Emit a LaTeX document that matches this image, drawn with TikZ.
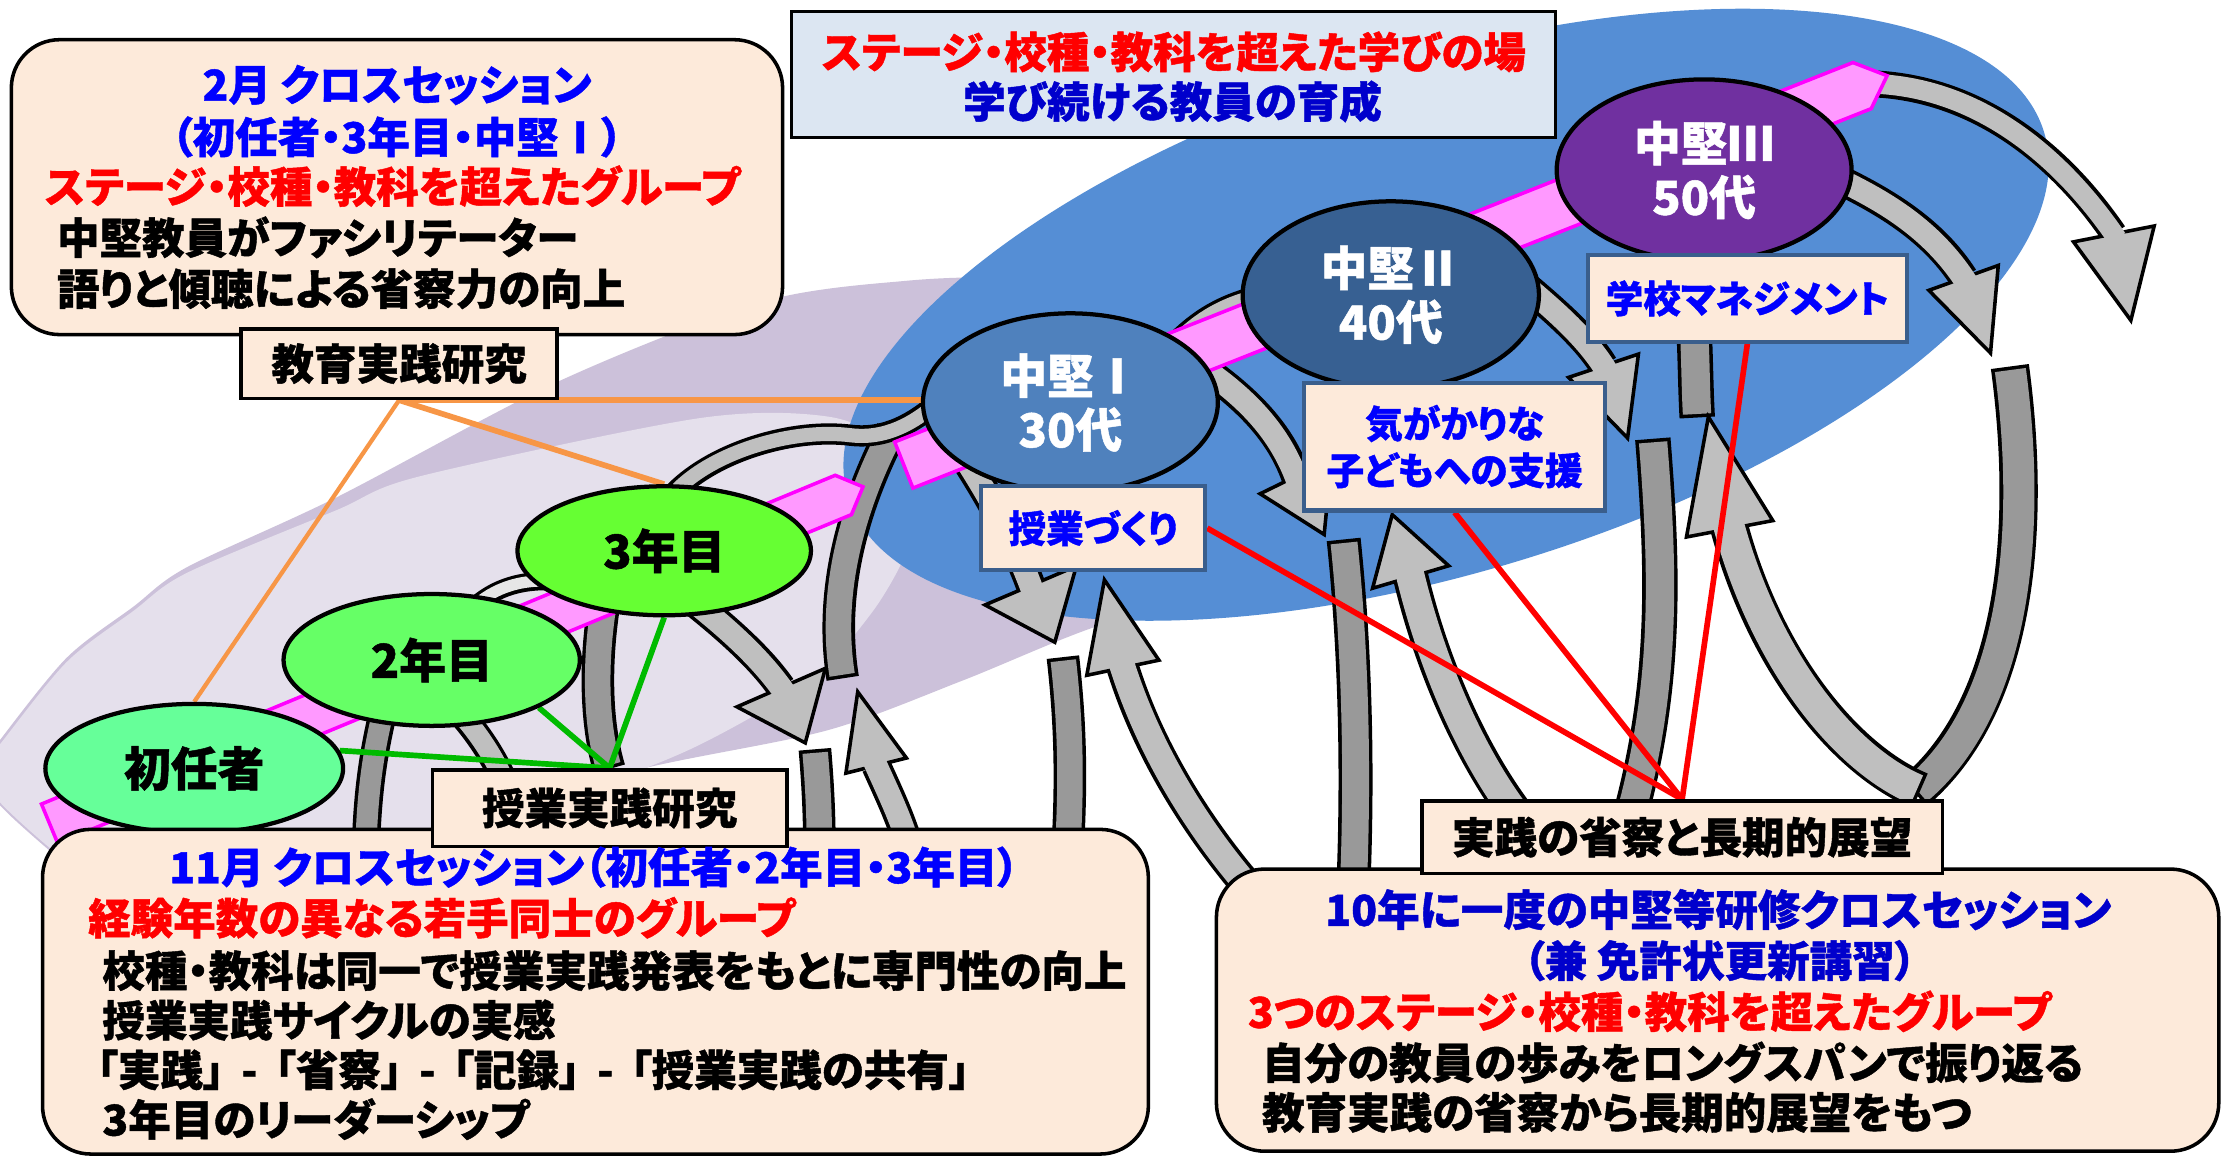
\documentclass[tikz,border=0pt]{standalone}
\usepackage{fontspec}
\setmainfont{Noto Sans CJK JP}[CharacterWidth=AlternateProportional, BoldFeatures={FakeBold=1}]
\usetikzlibrary{shapes.geometric,calc}
\definecolor{peach}{HTML}{FDEADA}
\definecolor{titlebg}{HTML}{DCE6F2}
\definecolor{purpout}{HTML}{CCC1DA}
\definecolor{purpin}{HTML}{E5E0EC}
\definecolor{bigblue}{HTML}{558ED5}
\definecolor{bandfill}{HTML}{FF99FF}
\definecolor{bandedge}{HTML}{FF00FF}
\definecolor{lgray}{HTML}{BFBFBF}
\definecolor{dgray}{HTML}{999999}
\definecolor{vlgray}{HTML}{E6E6E6}
\definecolor{gA}{HTML}{66FF99}
\definecolor{gB}{HTML}{66FF66}
\definecolor{gC}{HTML}{66FF33}
\definecolor{kA}{HTML}{4F81BD}
\definecolor{kB}{HTML}{376092}
\definecolor{kC}{HTML}{7030A0}
\definecolor{boxedge}{HTML}{3A5E8C}
\definecolor{orln}{HTML}{F79646}
\definecolor{grln}{HTML}{00BB00}
\definecolor{bluetx}{HTML}{0000FF}
\definecolor{dbluetx}{HTML}{0000CC}
\definecolor{redtx}{HTML}{FF0000}
\pgfdeclarelayer{lyA}\pgfdeclarelayer{lyB}\pgfdeclarelayer{lyC}
\pgfsetlayers{lyA,lyB,lyC,main}
\newcommand\gshaft[3]{%
  \draw[line width=#2pt+5pt, shorten <=-2.5pt, shorten >=-2.5pt] #3;
  \draw[line width=#2pt, #1] #3;}
\newcommand\garrow[5]{%
  \draw[line width=#1pt+5pt, shorten <=-2.5pt] #2;
  \filldraw[fill=lgray, line width=2.5pt, line join=miter] ($#3!#5pt!90:#4$) -- #4 -- ($#3!#5pt!-90:#4$) -- cycle;
  \draw[line width=#1pt, lgray, shorten >=-4pt] #2;}
\newcommand\dsep{\hspace{12pt}-\hspace{12pt}}
\tikzset{
  jp/.style={font=\bfseries\fontsize{30}{35}\selectfont},
  tl/.style={inner sep=0pt, jp},
  pbox/.style={rectangle, draw=black, line width=2.5pt, fill=peach, inner sep=0pt, jp},
  rbox/.style={pbox, rounded corners=34pt},
  bbox/.style={rectangle, draw=boxedge, line width=3pt, fill=peach, inner sep=0pt, font=\bfseries\fontsize{26.5}{33}\selectfont, text=bluetx, align=center},
  tbox/.style={rectangle, draw=black, line width=2pt, fill=titlebg, inner sep=0pt},
  gel/.style={ellipse, draw=black, line width=3pt, inner sep=0pt, font=\bfseries\fontsize{33}{38}\selectfont, align=center},
  kel/.style={gel, text=white},
  band/.style={fill=bandfill, draw=bandedge, line width=2.5pt, line join=miter},
  orl/.style={draw=orln, line width=4pt},
  grl/.style={draw=grln, line width=4pt},
  rdl/.style={draw=redtx, line width=4pt}
}
\begin{document}
\begin{tikzpicture}[x=1pt, y=-1pt]
\useasboundingbox (0,0) rectangle (1568,816);
\begin{pgfonlayer}{lyA}
\fill[white] (0,0) rectangle (1568,816);
\fill[purpout] plot[smooth cycle] coordinates {(-15,545) (0,522) (47,464) (94,428) (132,400) (237,351) (394,269) (537,213) (640,198) (720,196) (820,205) (900,260) (905,370) (860,420) (773,442) (679,480) (584,515) (458,541) (300,580) (150,632) (100,654) (35,600) (0,568)};
\fill[purpin] plot[smooth cycle] coordinates {(-15,545) (0,525) (47,467) (94,431) (132,404) (237,360) (296,336) (493,295) (585,294) (632,316) (647,350) (640,388) (615,432) (571,480) (490,527) (400,562) (250,612) (100,650) (35,598) (0,566)};
\fill[bigblue, rotate around={17:(1020,222)}] (1020,222) ellipse [x radius=441pt, y radius=181pt];
\end{pgfonlayer}

\begin{pgfonlayer}{lyB}
% back strips
\gshaft{dgray}{10}{(178,560) .. controls (179,575) and (179,590) .. (179,600)}
\gshaft{dgray}{15}{(272,495) .. controls (263,530) and (259,560) .. (258,600)}
\gshaft{lgray}{14}{(322,500) .. controls (345,525) and (362,555) .. (372,600)}
\gshaft{dgray}{18}{(427,420) .. controls (419,465) and (420,510) .. (429,540)}
\gshaft{dgray}{18}{(628,306) .. controls (600,360) and (585,420) .. (594,476)}
\gshaft{dgray}{18}{(575,531) .. controls (577,555) and (578,575) .. (578,600)}
\gshaft{dgray}{18}{(750,466) .. controls (755,510) and (756,550) .. (753,600)}
\gshaft{dgray}{19}{(948,383) .. controls (955,450) and (958,530) .. (955,615)}
\gshaft{dgray}{20}{(1166,312) .. controls (1173,400) and (1176,480) .. (1150,575)}
\gshaft{dgray}{20}{(1195,235) .. controls (1196,255) and (1196,275) .. (1197,292)}
\gshaft{dgray}{22}{(1418,261) .. controls (1434,380) and (1420,500) .. (1352,557)}
% top arcs
\gshaft{vlgray}{8}{(330,432) .. controls (345,416) and (365,408) .. (392,410)}
\gshaft{lgray}{10}{(478,345) .. controls (505,318) and (560,302) .. (600,307) .. controls (625,310) and (645,298) .. (660,285)}
\gshaft{lgray}{9}{(830,240) .. controls (845,225) and (862,214) .. (888,208)}
% arrows
\garrow{16}{(490,425) .. controls (515,445) and (537,465) .. (551,485)}{(551,485)}{(568,524)}{34}
\garrow{16}{(642,600) .. controls (636,578) and (626,558) .. (618,540)}{(618,540)}{(605,488)}{22}
\garrow{16}{(675,315) .. controls (695,345) and (715,380) .. (727,413)}{(727,413)}{(744,453)}{35}
\garrow{18}{(880,625) .. controls (850,590) and (812,535) .. (792,471)}{(792,471)}{(779,409)}{26}
\garrow{16}{(852,262) .. controls (880,282) and (903,305) .. (914,336)}{(914,336)}{(934,377)}{28}
\garrow{20}{(1078,585) .. controls (1040,540) and (1010,470) .. (995,407)}{(995,407)}{(982,363)}{28}
\garrow{16}{(1080,205) .. controls (1100,222) and (1120,240) .. (1131,258)}{(1131,258)}{(1148,309)}{26}
\garrow{22}{(1352,557) .. controls (1300,535) and (1245,465) .. (1220,373)}{(1220,373)}{(1205,294)}{31}
\garrow{16}{(1300,128) .. controls (1335,145) and (1365,165) .. (1385,196)}{(1385,196)}{(1404,249)}{26}
\garrow{14}{(1318,59) .. controls (1390,60) and (1450,105) .. (1491,165)}{(1491,165)}{(1503,226)}{29}
\end{pgfonlayer}

\begin{pgfonlayer}{lyC}
\begin{scope}[shift={(35,581)}, rotate=22.5]
  \filldraw[band] (0,-15) -- (606,-15) -- (621,0) -- (606,15) -- (0,15) -- cycle;
\end{scope}
\begin{scope}[shift={(637.5,328)}, rotate=21.6]
  \filldraw[band] (0,-17.5) -- (727,-17.5) -- (746,0) -- (727,17.5) -- (0,17.5) -- cycle;
\end{scope}
\end{pgfonlayer}

% ellipses
\node[gel, fill=gA, minimum width=210pt, minimum height=91pt] (sho) at (137,542) {初任者};
\node[gel, fill=gB, minimum width=209pt, minimum height=93pt] (s2) at (304.5,465.5) {2年目};
\node[gel, fill=gC, minimum width=207pt, minimum height=91pt] (s3) at (468.5,388.5) {3年目};
\node[kel, fill=kA, minimum width=208pt, minimum height=126pt] (k1) at (755,284) {中堅Ⅰ\\30代};
\node[kel, fill=kB, minimum width=209pt, minimum height=132pt] (k2) at (981,208) {中堅Ⅱ\\40代};
\node[kel, fill=kC, minimum width=208pt, minimum height=128pt] (k3) at (1202,120) {中堅Ⅲ\\50代};

% boxes
\node[rbox, minimum width=544pt, minimum height=208pt] (bx2) at (280,132) {};
\node[pbox, minimum width=223pt, minimum height=49pt] (kjk) at (281.5,256.5) {教育実践研究};
\node[tbox, minimum width=539pt, minimum height=89pt] (ttl) at (827.5,52.5) {};
\node[rbox, minimum width=780pt, minimum height=229pt] (bx11) at (420,699.5) {};
\node[pbox, minimum width=250pt, minimum height=54pt] (jgj) at (430,570) {授業実践研究};
\node[rbox, minimum width=707pt, minimum height=199pt] (bx10) at (1211.5,712.5) {};
\node[pbox, minimum width=367pt, minimum height=51pt] (jss) at (1186.5,590.5) {実践の省察と長期的展望};
\node[bbox, minimum width=158pt, minimum height=59pt] (jz) at (771,372.5) {授業づくり};
\node[bbox, minimum width=212pt, minimum height=90pt] (kg) at (1026,315) {気がかりな\\子どもへの支援};
\node[bbox, minimum width=225pt, minimum height=61pt] (gm) at (1232.5,210.5) {学校マネジメント};

% connectors
\begin{pgfonlayer}{lyC}
\draw[orl, line width=3pt] (kjk.south) -- (sho.north);
\draw[orl] (kjk.south) -- (s3.north);
\draw[orl] (kjk.south) -- (kjk.south -| k1.west);
\draw[grl] (jgj.north) -- (sho.7);
\draw[grl] (jgj.north) -- (s2.-24);
\draw[grl] (jgj.north) -- (s3.south);
\draw[rdl] (jss.north) -- (jz.east);
\draw[rdl] (jss.north) -- (kg.south);
\draw[rdl] (jss.north) -- (gm.south);
\end{pgfonlayer}

% texts
\node[tl, anchor=base, text=bluetx] (a1) at (280,71) {2月 クロスセッション};
\node[tl, anchor=base, text=bluetx] (a2) at (280,108) {（初任者・3年目・中堅Ⅰ）};
\node[tl, anchor=base, text=redtx] (a3) at (277,143) {ステージ・校種・教科を超えたグループ};
\node[tl, anchor=base west] (a4) at (40,179) {中堅教員がファシリテーター};
\node[tl, anchor=base west] (a5) at (40,215) {語りと傾聴による省察力の向上};

\node[tl, anchor=base, text=redtx] (b1) at (828,48) {ステージ・校種・教科を超えた学びの場};
\node[tl, anchor=base, text=dbluetx] (b2) at (827,83) {学び続ける教員の育成};

\node[tl, anchor=base, text=bluetx] (c1) at (419,623) {11月 クロスセッション（初任者・2年目・3年目）};
\node[tl, anchor=base west, text=redtx] (c2) at (62,659) {経験年数の異なる若手同士のグループ};
\node[tl, anchor=base west] (c3) at (72,696) {校種・教科は同一で授業実践発表をもとに専門性の向上};
\node[tl, anchor=base west] (c4) at (72,731) {授業実践サイクルの実感};
\node[tl, anchor=base west] (c5) at (68,766) {「実践」\dsep「省察」\dsep「記録」\dsep「授業実践の共有」};
\node[tl, anchor=base west] (c6) at (72,801) {3年目のリーダーシップ};

\node[tl, anchor=base, text=dbluetx] (d1) at (1212,653) {10年に一度の中堅等研修クロスセッション};
\node[tl, anchor=base, text=dbluetx] (d2) at (1213,689) {（兼 免許状更新講習）};
\node[tl, anchor=base west, text=redtx] (d3) at (880,725) {3つのステージ・校種・教科を超えたグループ};
\node[tl, anchor=base west] (d4) at (890,761) {自分の教員の歩みをロングスパンで振り返る};
\node[tl, anchor=base west] (d5) at (890,796) {教育実践の省察から長期的展望をもつ};
\end{tikzpicture}
\end{document}
